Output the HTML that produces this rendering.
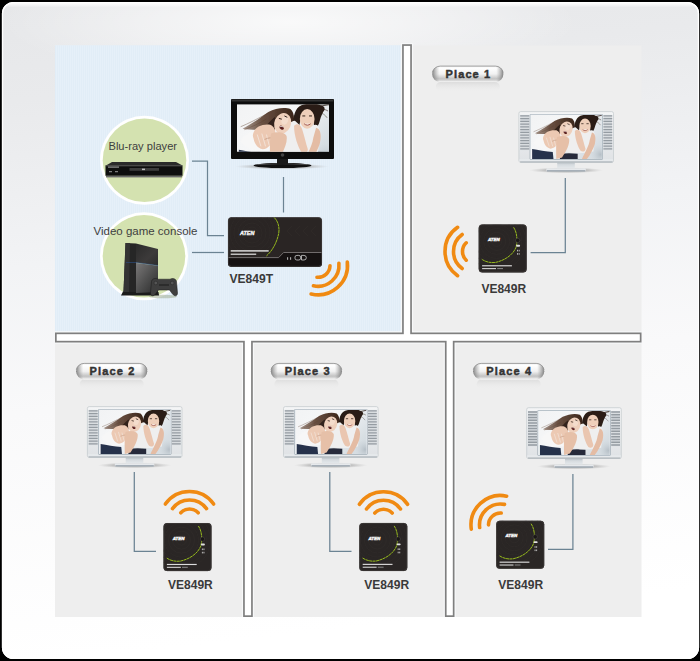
<!DOCTYPE html>
<html><head><meta charset="utf-8">
<style>
html,body{margin:0;padding:0;background:#000;width:700px;height:661px;overflow:hidden}
svg{display:block}
text{font-family:"Liberation Sans",sans-serif}
</style></head>
<body>
<svg width="700" height="661" viewBox="0 0 700 661">
<defs>
  <linearGradient id="bgGrad" x1="0" y1="0" x2="0.12" y2="1">
    <stop offset="0" stop-color="#e6e7e9"/>
    <stop offset="0.15" stop-color="#e9eaec"/>
    <stop offset="0.4" stop-color="#f2f3f5"/>
    <stop offset="0.62" stop-color="#f9f9fa"/>
    <stop offset="1" stop-color="#ffffff"/>
  </linearGradient>
  <linearGradient id="topHi" x1="0" y1="0" x2="0" y2="1">
    <stop offset="0" stop-color="#ffffff" stop-opacity="1"/>
    <stop offset="1" stop-color="#ffffff" stop-opacity="0"/>
  </linearGradient>
  <radialGradient id="glow" cx="0.5" cy="0.5" r="0.5">
    <stop offset="0" stop-color="#ffffff" stop-opacity="0.75"/>
    <stop offset="0.5" stop-color="#ffffff" stop-opacity="0.4"/>
    <stop offset="1" stop-color="#ffffff" stop-opacity="0"/>
  </radialGradient>
  <linearGradient id="pillGrad" x1="0" y1="0" x2="0" y2="1">
    <stop offset="0" stop-color="#e8e8e8"/>
    <stop offset="0.12" stop-color="#ffffff"/>
    <stop offset="0.5" stop-color="#f2f2f2"/>
    <stop offset="0.8" stop-color="#c2c2c2"/>
    <stop offset="0.9" stop-color="#d8d8d8"/>
    <stop offset="1" stop-color="#fafafa"/>
  </linearGradient>
  <linearGradient id="pillSide" x1="0" y1="0" x2="1" y2="0">
    <stop offset="0" stop-color="#6e6e6e" stop-opacity="0.85"/>
    <stop offset="0.1" stop-color="#9a9a9a" stop-opacity="0"/>
    <stop offset="0.9" stop-color="#9a9a9a" stop-opacity="0"/>
    <stop offset="1" stop-color="#6e6e6e" stop-opacity="0.85"/>
  </linearGradient>
  <linearGradient id="reflGrad" x1="0" y1="0" x2="0" y2="1">
    <stop offset="0" stop-color="#d8d8d8" stop-opacity="0.8"/>
    <stop offset="1" stop-color="#eeeeee" stop-opacity="0"/>
  </linearGradient>
  <linearGradient id="silverGrad" x1="0" y1="0" x2="0" y2="1">
    <stop offset="0" stop-color="#f4f5f6"/>
    <stop offset="1" stop-color="#dfe2e5"/>
  </linearGradient>
  <linearGradient id="hairGrad" x1="0" y1="0" x2="1" y2="0" gradientUnits="userSpaceOnUse" gradientTransform="scale(60 1)">
    <stop offset="0" stop-color="#7a5e4e" stop-opacity="0.5"/>
    <stop offset="0.45" stop-color="#5a3e2e" stop-opacity="0.9"/>
    <stop offset="1" stop-color="#3e281c"/>
  </linearGradient>
  <linearGradient id="ps4Top" x1="0" y1="0" x2="1" y2="1">
    <stop offset="0" stop-color="#2a2a2a"/>
    <stop offset="0.6" stop-color="#3c3a3a"/>
    <stop offset="1" stop-color="#2c2c2c"/>
  </linearGradient>
  <linearGradient id="ps4Bot" x1="0" y1="0" x2="1" y2="1">
    <stop offset="0" stop-color="#7a7878"/>
    <stop offset="0.5" stop-color="#505050"/>
    <stop offset="1" stop-color="#2a2a2a"/>
  </linearGradient>
  <pattern id="stripes" x="0" y="0" width="2" height="4" patternUnits="userSpaceOnUse">
    <rect x="0" y="0" width="1" height="4" fill="#e6f0f9"/>
    <rect x="1" y="0" width="1" height="4" fill="#e1edf7"/>
  </pattern>
  <linearGradient id="photoBg" x1="0" y1="0" x2="1" y2="0.6">
    <stop offset="0" stop-color="#f2f3f4"/>
    <stop offset="0.5" stop-color="#f6f7f8"/>
    <stop offset="1" stop-color="#d6dde2"/>
  </linearGradient>
  <radialGradient id="photoShade" cx="0.5" cy="0.5" r="0.5">
    <stop offset="0" stop-color="#aeb8c0" stop-opacity="0.8"/>
    <stop offset="1" stop-color="#c8d0d6" stop-opacity="0"/>
  </radialGradient>
  <filter id="soft" x="-5%" y="-5%" width="110%" height="110%"><feGaussianBlur stdDeviation="0.5"/></filter>
  <radialGradient id="shadowGrad2" cx="0.5" cy="0.5" r="0.5">
    <stop offset="0" stop-color="#8e8e8e" stop-opacity="0.9"/>
    <stop offset="0.6" stop-color="#a8a8a8" stop-opacity="0.6"/>
    <stop offset="1" stop-color="#c0c0c0" stop-opacity="0"/>
  </radialGradient>
  <linearGradient id="neckGrad" x1="0" y1="0" x2="0" y2="1">
    <stop offset="0" stop-color="#b4bcc2"/>
    <stop offset="0.4" stop-color="#d6dbdf"/>
    <stop offset="1" stop-color="#e4e8eb"/>
  </linearGradient>
  <radialGradient id="shadowGrad" cx="0.5" cy="0.5" r="0.5">
    <stop offset="0" stop-color="#9a9a9a" stop-opacity="0.8"/>
    <stop offset="1" stop-color="#bbbbbb" stop-opacity="0"/>
  </radialGradient>

  <!-- photo in 100x60 box -->
  <symbol id="photo" viewBox="0 0 100 60" preserveAspectRatio="none">
    <rect width="100" height="60" fill="url(#photoBg)"/>
    <ellipse cx="98" cy="54" rx="14" ry="14" fill="url(#photoShade)"/>
    <g filter="url(#soft)">
    <!-- left hair streaks -->
    <g stroke="#6a4e3e" stroke-width="0.8" fill="none" opacity="0.6">
      <path d="M4,23 C12,20 22,15 34,9"/>
      <path d="M8,26 C16,23 24,20 32,15"/>
    </g>
    <path d="M6,25 C14,21 24,15 34,8 C42,4 52,3 58,5 C62,8 63,15 61,22 L59,27 C57,20 54,14 48,12 C43,13 41,20 40,28 C34,28 28,26 22,26 C16,26 10,26 6,25 Z" fill="url(#hairGrad)"/>
    <path d="M28,26 C32,22 36,17 41,13 L44,18 C42,22 41,26 40,29 C36,29 31,28 28,26 Z" fill="#33221a"/>
    <!-- right hair -->
    <path d="M61,22 C61,12 63,4 70,1 C77,-1 86,-1 91,1 C94,2 96,3 95,6 C93,9 91,13 90,17 C89,21 87,24 84,26 L83,14 C81,8 73,7 70,13 C68,18 68,23 66,27 C63,27 61,25 61,22 Z" fill="#2a1c14"/>
    <g stroke="#2e2018" fill="none" opacity="0.75"><path d="M88,3 C92,2 96,1 100,0.5" stroke-width="1.4"/><path d="M89,6 C93,5 96,5 99,7" stroke-width="0.8"/><path d="M90,9 C93,9 96,11 98,14" stroke-width="0.6"/></g>
    <!-- jeans -->
    <path d="M2,46.5 C10,48 22,50 31,50.5 L32,60 L2,60 Z" fill="#28334c"/>
    <path d="M41,53 C50,52 58,52 66,53 L66,60 L41,60 Z" fill="#282c3a"/>
    <!-- white tops -->
    <path d="M4,38 C6,33 12,29 20,27 L36,27 L44,38 L40,48 L26,48 C14,46 8,43 4,38 Z" fill="#f7f7f7"/>
    <path d="M50,50 L52,30 C54,22 58,17 63,17 L70,23 L82,22 C87,19 90,22 90,30 L88,50 L74,52 L58,52 Z" fill="#efefef"/>
    <!-- left face -->
    <ellipse cx="49.6" cy="19.5" rx="9" ry="10.8" fill="#efd0bc" transform="rotate(25 49.6 19.5)"/>
    <ellipse cx="52" cy="16.5" rx="3.5" ry="4.5" fill="#f4dccc" transform="rotate(25 52 16.5)"/>
    <ellipse cx="48.6" cy="24" rx="2.6" ry="1.8" fill="#5b1e1c" transform="rotate(30 48.6 24)"/>
    <path d="M46.8,23 C48,22.3 49.8,22.8 50.6,23.6" stroke="#fff" stroke-width="0.8" fill="none"/>
    <path d="M45.5,14.5 l3.2,0.8 M51.5,12 l3.2,1.4" stroke="#2a1a14" stroke-width="1"/>
    <!-- left arm/hand toward viewer -->
    <path d="M18,29 C20,23 28,20 36,21 C41,23 43,28 41,34 C38,40 34,46 28,46 C22,45 19,40 18,35 C17,33 17,31 18,29 Z" fill="#ecc9b3"/>
    <path d="M22,31 l4,12 M27,30 l4,13 M32,31 l3,11" stroke="#f4ece6" stroke-width="0.9" fill="none" opacity="0.8"/>
    <path d="M30,36 C34,34 38,34 41,35" stroke="#c49a84" stroke-width="0.8" fill="none"/>
    <path d="M37,30 C43,28 52,28 54,33 C55,40 50,50 44,58 L36,60 C36,52 35,40 37,30 Z" fill="#e6c0a8"/>
    <!-- right face -->
    <ellipse cx="76.3" cy="15" rx="8" ry="10" fill="#efcfba"/>
    <path d="M73,20 C75,21.8 78,21.8 80,20" stroke="#9a4a40" stroke-width="1" fill="#fff"/>
    <path d="M71,12 h3.2 M78.3,12 h3.2" stroke="#2a1a14" stroke-width="1"/>
    <!-- right arms -->
    <path d="M62,22 C65,19 69,20 71,26 C73,32 75,40 77,46 C77,50 73,51 70,49 C66,43 62,32 62,22 Z" fill="#eac6b0"/>
    <path d="M86,24 C91,25 92,32 90,40 C88,46 84,54 79,60 L72,60 C76,52 82,42 83,34 Z" fill="#e4bca4"/>
    </g>
  </symbol>

  <!-- silver TV, 96 x 60 -->
  <symbol id="silverTV" viewBox="0 0 96 60" overflow="visible">
    <ellipse cx="47.5" cy="59" rx="37" ry="3" fill="url(#shadowGrad2)"/>
    <rect x="27.8" y="57" width="39.4" height="3.1" rx="1" fill="#e6e9ec"/>
    <rect x="28.3" y="59.1" width="38.4" height="1" fill="#7d8a95"/>
    <rect x="38.6" y="51" width="17.6" height="6" fill="url(#neckGrad)"/>
    <rect x="0.3" y="0.3" width="94.6" height="50.8" rx="1.8" fill="url(#silverGrad)" stroke="#c2c8cc" stroke-width="0.7"/>
    <rect x="0.8" y="47.8" width="93.6" height="2.6" fill="#e6e9ec"/>
    <line x1="1.5" y1="50.6" x2="94" y2="50.6" stroke="#9ca3a9" stroke-width="0.8"/>
    <rect x="1.6" y="3.6" width="9" height="35.2" fill="#d9dde0"/>
    <rect x="84.8" y="3.6" width="8.8" height="35.2" fill="#d9dde0"/>
    <g stroke="#959ca2" stroke-width="1.4">
      <path d="M1.6,4.60H10.6M1.6,7.35H10.6M1.6,10.10H10.6M1.6,12.85H10.6M1.6,15.60H10.6M1.6,18.35H10.6M1.6,21.10H10.6M1.6,23.85H10.6M1.6,26.60H10.6M1.6,29.35H10.6M1.6,32.10H10.6M1.6,34.85H10.6M1.6,37.60H10.6"/>
      <path d="M84.8,4.60H93.6M84.8,7.35H93.6M84.8,10.10H93.6M84.8,12.85H93.6M84.8,15.60H93.6M84.8,18.35H93.6M84.8,21.10H93.6M84.8,23.85H93.6M84.8,26.60H93.6M84.8,29.35H93.6M84.8,32.10H93.6M84.8,34.85H93.6M84.8,37.60H93.6"/>
    </g>
    <rect x="11.1" y="2.6" width="73.2" height="45.8" rx="1.2" fill="#93a0aa"/>
    <rect x="11.6" y="3.1" width="72.2" height="44.8" fill="#dfe5ea"/>
    <use href="#photo" x="12.1" y="3.6" width="71.2" height="44"/>
  </symbol>

  <!-- receiver box 48x48 -->
  <symbol id="rx" viewBox="0 0 48 48" overflow="visible">
    <clipPath id="rxClip"><rect x="0" y="0" width="48" height="48" rx="3.5"/></clipPath>
    <rect x="0" y="0" width="48" height="48" rx="3.5" fill="#2a2625"/>
    <g fill="none" stroke="#332e2d" stroke-width="0.45" clip-path="url(#rxClip)">
      <circle cx="18" cy="17" r="5"/><circle cx="18" cy="17" r="9"/><circle cx="18" cy="17" r="13"/><circle cx="18" cy="17" r="17"/><circle cx="18" cy="17" r="21"/><circle cx="18" cy="17" r="25"/><circle cx="18" cy="17" r="29"/>
    </g>
    <rect x="0.4" y="0.4" width="47.2" height="47.2" rx="3.2" fill="none" stroke="#3e3a38" stroke-width="0.8"/>
    <path d="M34.9,2.9 C38.5,8 39,17 37.3,22.9 C35,29 28,35.5 16.9,38 C11,38.8 6,37 3,34.8" fill="none" stroke="#9cc21c" stroke-width="0.95" stroke-dasharray="3 0.4"/>
    <text x="9.2" y="16.7" font-size="4.3" font-weight="bold" font-style="italic" fill="#f4f4f4" stroke="#f4f4f4" stroke-width="0.4" textLength="11.8" lengthAdjust="spacingAndGlyphs">ATEN</text>
    <circle cx="39" cy="16" r="2.2" fill="#1a1716" stroke="#4a4644" stroke-width="0.6"/>
    <rect x="37.4" y="20.4" width="4" height="1.9" rx="0.95" fill="#e0e0e0"/>
    <g fill="#c8c8c8"><rect x="38.4" y="25.4" width="0.9" height="1.6"/><rect x="40" y="25.4" width="0.9" height="1.6"/><rect x="38.4" y="28.7" width="0.9" height="1.6"/><rect x="40" y="28.7" width="0.9" height="1.6"/></g>
    <rect x="3.4" y="40.8" width="29.8" height="1.15" fill="#dcdcdc"/>
    <rect x="3.4" y="43.7" width="13.9" height="1.05" fill="#dcdcdc"/>
    <rect x="18.5" y="43.7" width="5.8" height="1" fill="#8a8a8a"/>
  </symbol>

  <!-- wifi arcs pointing up, center at origin -->
  <g id="arcs" fill="none" stroke="#f08a12" stroke-width="3.6" stroke-linecap="round">
    <path d="M-8.7,-8.27 A12,12 0 0 1 8.7,-8.27"/>
    <path d="M-16.99,-12.34 A21,21 0 0 1 16.99,-12.34"/>
    <path d="M-24.16,-16.92 A29.5,29.5 0 0 1 24.16,-16.92"/>
  </g>

  <!-- pill -->
  <symbol id="pill" viewBox="0 0 72 17" overflow="visible">
    <rect x="4" y="16.5" width="64" height="10" rx="5" fill="url(#reflGrad)"/>
    <rect x="0.4" y="0.4" width="71.2" height="16.2" rx="8.1" fill="url(#pillGrad)"/>
    <rect x="0.4" y="0.4" width="71.2" height="16.2" rx="8.1" fill="url(#pillSide)"/>
    <path d="M8.5,0.6 H63.5 A8,8 0 0 1 71.4,7" fill="none" stroke="#8c8c8c" stroke-width="0.8"/>
    <path d="M8.5,0.6 A8,8 0 0 0 0.6,7" fill="none" stroke="#8c8c8c" stroke-width="0.8"/>
  </symbol>
</defs>

<!-- frame -->
<rect x="0" y="0" width="700" height="661" fill="#000"/>
<rect x="2.5" y="2.5" width="696" height="656" rx="11" fill="url(#bgGrad)" stroke="#ffffff" stroke-width="1.2"/>
<clipPath id="frameClip"><rect x="2.5" y="2.5" width="696" height="656" rx="11"/></clipPath>
<g clip-path="url(#frameClip)">
  <ellipse cx="290" cy="22" rx="290" ry="60" fill="url(#glow)"/>
  <rect x="2.5" y="2.5" width="696" height="5" fill="url(#topHi)"/>
</g>
<rect x="2.5" y="2.5" width="696" height="656" rx="11" fill="none" stroke="#ffffff" stroke-width="1.2"/>

<!-- panels -->
<rect x="55" y="45.5" width="586.5" height="571.5" fill="#eeeeee"/>
<rect x="55" y="45.5" width="347.5" height="287" fill="#e3eef8"/>
<rect x="55" y="45.5" width="347.5" height="287" fill="url(#stripes)"/>
<rect x="55" y="331" width="347" height="1.5" fill="#eaf4fc"/>

<!-- channels -->
<g fill="#f7f8f9">
  <rect x="55" y="331.3" width="586.5" height="12.4"/>
  <rect x="400.9" y="43" width="12.2" height="292"/>
  <rect x="241.9" y="340" width="12.1" height="277"/>
  <rect x="443.7" y="340" width="12" height="277"/>
</g>
<g fill="#7f7f7f">
  <rect x="55" y="332.5" width="586.5" height="10"/>
  <rect x="402.1" y="44.2" width="9.8" height="291"/>
  <rect x="243.1" y="340" width="9.7" height="277"/>
  <rect x="444.9" y="340" width="9.6" height="277"/>
</g>
<g fill="#ffffff">
  <rect x="56.7" y="334.2" width="583.1" height="6.6"/>
  <rect x="403.8" y="45.9" width="6.4" height="294"/>
  <rect x="244.8" y="335" width="6.3" height="280.3"/>
  <rect x="446.6" y="335" width="6.2" height="280.3"/>
</g>

<!-- ===== Blue panel ===== -->
<g stroke="#6b8393" stroke-width="1.25" fill="none">
  <path d="M192,161 H207.5 V235.5 H224"/>
  <path d="M192,252.5 H224"/>
  <path d="M283.5,177 V212.5"/>
</g>
<circle cx="144.5" cy="160.3" r="44.5" fill="#ffffff"/>
<circle cx="144.5" cy="160.3" r="41.8" fill="#d4e2b0"/>
<circle cx="144" cy="256.3" r="44" fill="#ffffff"/>
<circle cx="144" cy="256.3" r="41.3" fill="#d4e2b0"/>
<text x="108.5" y="149.6" font-size="11.2" fill="#3e3e3e" textLength="68.5" lengthAdjust="spacingAndGlyphs">Blu-ray player</text>
<text x="93.5" y="234.6" font-size="11.5" fill="#3e3e3e" textLength="104" lengthAdjust="spacingAndGlyphs">Video game console</text>

<!-- blu-ray device -->
<g>
  <path d="M112,162 L176,162 L182.5,165.5 L106,165.5 Z" fill="#2a2a2a"/>
  <rect x="105.5" y="165.3" width="77" height="10.5" fill="#0e0e0e"/>
  <rect x="106" y="165.3" width="76" height="1" fill="#555"/>
  <rect x="129.5" y="168" width="29.5" height="2.8" fill="#3c3c3c"/>
  <rect x="142" y="168.6" width="3" height="1.5" fill="#bbb"/>
  <rect x="108" y="166.6" width="11" height="1" fill="#aaa"/>
  <rect x="109" y="171.2" width="3" height="1" fill="#999"/>
  <rect x="115" y="171.2" width="3" height="1" fill="#999"/>
  <rect x="106" y="175.8" width="76" height="1.6" fill="#6a6a6a"/>
</g>

<!-- PS4 -->
<g>
  <ellipse cx="163" cy="296.5" rx="14" ry="1.8" fill="#9aa88a" opacity="0.5"/>
  <path d="M123,291.5 L158.5,292 L159,295.5 L121,295.5 Z" fill="#1c1c1c"/>
  <path d="M125.5,243 L136,243.5 L136,292 L123.5,292 Z" fill="#262626"/>
  <path d="M125.5,243 L130,243 L129,292 L123.5,292 Z" fill="#333"/>
  <path d="M136,243.5 L158,249 L158,265.5 L136,262.5 Z" fill="url(#ps4Top)"/>
  <path d="M136,263 L158,265.8 L158,292 L136,293 Z" fill="url(#ps4Bot)"/>
  <path d="M126,262.5 L136,262.5 L158,265.5" fill="none" stroke="#2c4f86" stroke-width="0.6"/>
  <path d="M151.5,281.5 C152,278.5 155.5,277.8 158,279.2 L170,279.2 C172.5,277.8 176,278.5 176.5,281.5 L177.5,293 C177.5,296.5 174.5,296.5 172.5,294 L169.5,290 L158.5,290 L155.5,294 C153.5,296.5 150.5,296.5 150.5,293 Z" fill="#3e3e3e" stroke="#1a1a1a" stroke-width="0.5"/>
  <circle cx="155.8" cy="283" r="1.8" fill="#555" stroke="#222" stroke-width="0.4"/>
  <circle cx="172.2" cy="283" r="1.8" fill="#555" stroke="#222" stroke-width="0.4"/>
  <path d="M159,285 h10" stroke="#222" stroke-width="1.2"/>
</g>

<!-- black TV -->
<g>
  <ellipse cx="282" cy="166.5" rx="47" ry="3" fill="url(#shadowGrad2)"/>
  <ellipse cx="282.5" cy="165.5" rx="29" ry="2.6" fill="#111"/>
  <path d="M258,164.6 Q282.5,162.6 307,164.6" fill="none" stroke="#6a6a6a" stroke-width="0.6"/>
  <rect x="277" y="158" width="11" height="6.5" fill="#1a1a1a"/>
  <rect x="231" y="99" width="103" height="60" rx="1" fill="#0d0d0d"/>
  <rect x="231.5" y="99.5" width="102" height="2" fill="#333"/>
  <svg x="237" y="104.2" width="92" height="47.5" viewBox="0 0 100 48.5" preserveAspectRatio="none"><use href="#photo" x="0" y="0" width="100" height="60"/></svg>
  <circle cx="282.5" cy="155" r="1.8" fill="#444"/>
</g>

<!-- VE849T box -->
<g>
  <rect x="228" y="217.2" width="94" height="49.5" rx="3.5" fill="#2a2524"/>
  <clipPath id="txClip"><rect x="228" y="217.2" width="94" height="49.5" rx="3.5"/></clipPath>
  <g clip-path="url(#txClip)">
    <g fill="none" stroke="#332e2d" stroke-width="0.45">
      <circle cx="252" cy="233" r="6"/><circle cx="252" cy="233" r="10"/><circle cx="252" cy="233" r="14"/><circle cx="252" cy="233" r="18"/><circle cx="252" cy="233" r="22"/><circle cx="252" cy="233" r="26"/>
      <path d="M292,226 l-5,5 l5,5 M300,226 l-5,5 l5,5 M308,226 l-5,5 l5,5 M316,226 l-5,5 l5,5"/>
    </g>
    <path d="M228,257.6 L278.6,257.6 L283.6,252.5 L322,252.5 L322,267 L228,267 Z" fill="#161212"/>
    <path d="M228,257.6 L278.6,257.6 L283.6,252.5 L322,252.5" fill="none" stroke="#7a7676" stroke-width="0.9"/>
  </g>
  <rect x="228.4" y="217.6" width="93.2" height="48.7" rx="3.2" fill="none" stroke="#423d3c" stroke-width="0.7"/>
  <path d="M274.3,217.6 C279,222 280,230 278.1,236 C276,244 272,251 266.4,256" fill="none" stroke="#9cc21c" stroke-width="0.95" stroke-dasharray="3 0.4"/>
  <text x="240" y="235.1" font-size="5" font-weight="bold" font-style="italic" fill="#f4f4f4" stroke="#f4f4f4" stroke-width="0.35" textLength="14.3" lengthAdjust="spacingAndGlyphs">ATEN</text>
  <rect x="230.7" y="250.2" width="38" height="1.4" fill="#e6e6e6"/>
  <rect x="230.7" y="253.6" width="25.5" height="1.2" fill="#e6e6e6"/>
  <rect x="287.2" y="257.2" width="0.9" height="2.6" fill="#ccc"/>
  <rect x="290.2" y="257.2" width="0.9" height="2.6" fill="#ccc"/>
  <rect x="295" y="255.4" width="5.6" height="4.6" rx="1.8" fill="none" stroke="#d0d0d0" stroke-width="0.8"/>
  <path d="M301.5,255.4 h2.5 a2.3,2.3 0 0 1 0,4.6 h-2.5 Z" fill="none" stroke="#d0d0d0" stroke-width="0.8"/>
</g>
<text x="229.5" y="282.7" font-size="12.4" font-weight="bold" fill="#3a3a3a" textLength="43.6" lengthAdjust="spacingAndGlyphs">VE849T</text>
<use href="#arcs" transform="translate(318 265.3) rotate(138.5)"/>

<!-- ===== Place 1 ===== -->
<use href="#pill" x="431.8" y="65.5" width="72" height="17"/>
<text x="445.6" y="77.6" font-size="11" font-weight="bold" fill="#333" stroke="#333" stroke-width="0.45" textLength="44.5">Place 1</text>
<g stroke="#6b8393" stroke-width="1.25" fill="none"><path d="M565.3,178 V252.7 H530.6"/></g>
<use href="#silverTV" x="518.6" y="111.3" width="96" height="60"/>
<use href="#rx" x="478.7" y="224.4" width="48" height="48"/>
<text x="481.4" y="292.7" font-size="12.4" font-weight="bold" fill="#3a3a3a" textLength="44.8" lengthAdjust="spacingAndGlyphs">VE849R</text>
<use href="#arcs" transform="translate(474.5 251.5) rotate(-90)"/>

<!-- ===== Place 2 ===== -->
<use href="#pill" x="75.7" y="362.8" width="72" height="17"/>
<text x="89.5" y="374.9" font-size="11" font-weight="bold" fill="#333" stroke="#333" stroke-width="0.45" textLength="44.8">Place 2</text>
<g stroke="#6b8393" stroke-width="1.25" fill="none"><path d="M134.3,472 V551.3 H156"/></g>
<use href="#silverTV" x="87.1" y="406.3" width="96" height="60"/>
<use href="#rx" x="163.5" y="523.1" width="48" height="48"/>
<text x="168" y="588.9" font-size="12.4" font-weight="bold" fill="#3a3a3a" textLength="44.8" lengthAdjust="spacingAndGlyphs">VE849R</text>
<use href="#arcs" transform="translate(189.5 521)"/>

<!-- ===== Place 3 ===== -->
<use href="#pill" x="270.4" y="362.8" width="72" height="17"/>
<text x="284.8" y="374.9" font-size="11" font-weight="bold" fill="#333" stroke="#333" stroke-width="0.45" textLength="44.8">Place 3</text>
<g stroke="#6b8393" stroke-width="1.25" fill="none"><path d="M329.8,472 V551.4 H351.5"/></g>
<use href="#silverTV" x="283.2" y="406.3" width="96" height="60"/>
<use href="#rx" x="359.3" y="523" width="48" height="48"/>
<text x="364.3" y="588.9" font-size="12.4" font-weight="bold" fill="#3a3a3a" textLength="44.8" lengthAdjust="spacingAndGlyphs">VE849R</text>
<use href="#arcs" transform="translate(383.5 521.3)"/>

<!-- ===== Place 4 ===== -->
<use href="#pill" x="472.7" y="362.8" width="72" height="17"/>
<text x="486.3" y="374.9" font-size="11" font-weight="bold" fill="#333" stroke="#333" stroke-width="0.45" textLength="44.8">Place 4</text>
<g stroke="#6b8393" stroke-width="1.25" fill="none"><path d="M572.9,474 V549.3 H548"/></g>
<use href="#silverTV" x="526.4" y="407.4" width="96" height="60"/>
<use href="#rx" x="496.2" y="520.8" width="48" height="48"/>
<text x="498.3" y="588.9" font-size="12.4" font-weight="bold" fill="#3a3a3a" textLength="44.8" lengthAdjust="spacingAndGlyphs">VE849R</text>
<use href="#arcs" transform="translate(500.5 525) rotate(-43)"/>

</svg>
</body></html>
